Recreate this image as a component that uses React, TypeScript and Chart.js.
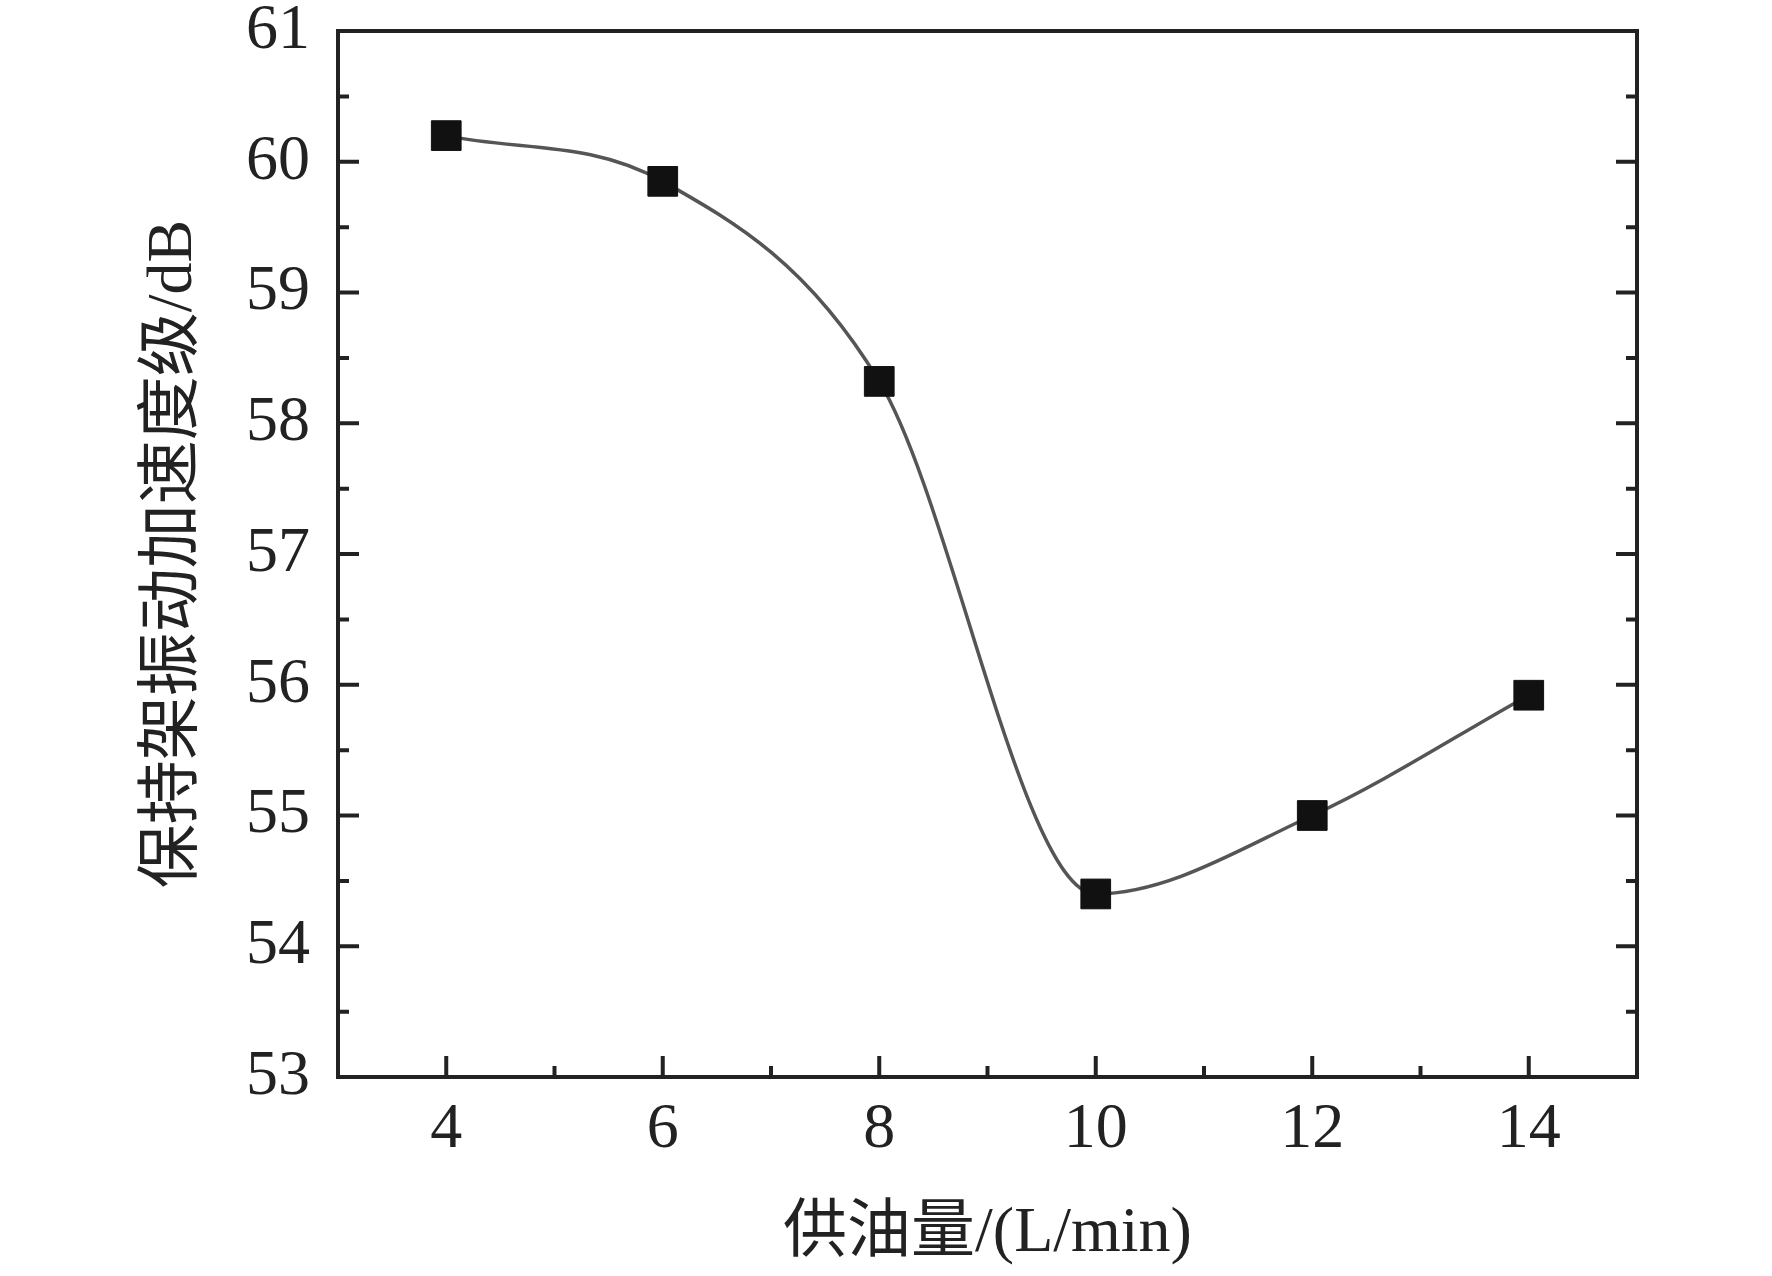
import React, { useEffect, useRef } from 'react';
import { Chart, registerables, type Plugin } from 'chart.js';

Chart.register(...registerables);

// 数据: 供油量 vs 保持架振动加速度级
const OIL_SUPPLY = [4, 6, 8, 10, 12, 14];
const ACCEL_LEVEL = [60.2, 59.85, 58.32, 54.4, 55.0, 55.92];
const X_TICKS = [4, 6, 8, 10, 12, 14];
const X_MINOR = [5, 7, 9, 11, 13];
const Y_TICKS = [53, 54, 55, 56, 57, 58, 59, 60, 61];
const Y_MINOR = [53.5, 54.5, 55.5, 56.5, 57.5, 58.5, 59.5, 60.5];

const SERIF = '"Liberation Serif", "Times New Roman", "Noto Sans CJK SC", serif';
const INK = '#222222';

// 边框 + 向内刻度
const framePlugin: Plugin<'line'> = {
  id: 'frameTicks',
  beforeDatasetsDraw(chart) {
    const { ctx, chartArea: a, scales } = chart;
    const x = scales.x;
    const y = scales.y;
    ctx.save();
    ctx.strokeStyle = INK;
    ctx.lineWidth = 4;
    ctx.lineCap = 'square';
    ctx.strokeRect(a.left, a.top, a.right - a.left, a.bottom - a.top);
    ctx.lineCap = 'butt';
    ctx.beginPath();
    const major = 21;
    const minor = 11;
    X_TICKS.forEach((v) => {
      const px = x.getPixelForValue(v);
      ctx.moveTo(px, a.bottom);
      ctx.lineTo(px, a.bottom - major);
    });
    X_MINOR.forEach((v) => {
      const px = x.getPixelForValue(v);
      ctx.moveTo(px, a.bottom);
      ctx.lineTo(px, a.bottom - minor);
    });
    Y_TICKS.forEach((v) => {
      const py = y.getPixelForValue(v);
      ctx.moveTo(a.left, py);
      ctx.lineTo(a.left + major, py);
      ctx.moveTo(a.right, py);
      ctx.lineTo(a.right - major, py);
    });
    Y_MINOR.forEach((v) => {
      const py = y.getPixelForValue(v);
      ctx.moveTo(a.left, py);
      ctx.lineTo(a.left + minor, py);
      ctx.moveTo(a.right, py);
      ctx.lineTo(a.right - minor, py);
    });
    ctx.stroke();
    ctx.restore();
  },
};

const App: React.FC = () => {
  const canvasRef = useRef<HTMLCanvasElement>(null);
  const chartRef = useRef<Chart<'line'> | null>(null);

  useEffect(() => {
    if (!canvasRef.current) return;
    chartRef.current?.destroy();

    chartRef.current = new Chart(canvasRef.current, {
      type: 'line',
      data: {
        datasets: [
          {
            data: OIL_SUPPLY.map((v, i) => ({ x: v, y: ACCEL_LEVEL[i] })),
            borderColor: '#555555',
            borderWidth: 3.5,
            cubicInterpolationMode: 'monotone',
            pointStyle: 'rect',
            pointRadius: 21,
            pointBackgroundColor: '#111111',
            pointBorderColor: '#111111',
            pointBorderWidth: 1,
            fill: false,
          },
        ],
      },
      options: {
        animation: false,
        responsive: true,
        maintainAspectRatio: false,
        devicePixelRatio: 1,
        layout: { padding: { left: 136, right: 135, top: 31, bottom: 3 } },
        plugins: { legend: { display: false }, tooltip: { enabled: false } },
        scales: {
          x: {
            type: 'linear',
            min: 3,
            max: 15,
            afterBuildTicks: (s) => {
              s.ticks = X_TICKS.map((value) => ({ value }));
            },
            afterFit: (s: any) => {
              s.height = 196;
              s.paddingLeft = 0;
              s.paddingRight = 0;
            },
            grid: { display: false, drawTicks: false },
            border: { display: false },
            ticks: {
              padding: 15,
              color: INK,
              font: { family: SERIF, size: 64 },
              maxRotation: 0,
            },
            title: {
              display: true,
              text: '供油量/(L/min)',
              color: INK,
              font: { family: SERIF, size: 64 },
              padding: 0,
            },
          },
          y: {
            type: 'linear',
            min: 53,
            max: 61,
            afterBuildTicks: (s) => {
              s.ticks = Y_TICKS.map((value) => ({ value }));
            },
            afterFit: (s: any) => {
              s.width = 202;
              s.paddingTop = 0;
              s.paddingBottom = 0;
            },
            grid: { display: false, drawTicks: false },
            border: { display: false },
            ticks: {
              padding: 28,
              color: INK,
              font: { family: SERIF, size: 64 },
            },
            title: {
              display: true,
              text: '保持架振动加速度级/dB',
              color: INK,
              font: { family: SERIF, size: 64 },
              padding: 0,
            },
          },
        },
      },
      plugins: [framePlugin],
    });

    return () => {
      chartRef.current?.destroy();
      chartRef.current = null;
    };
  }, []);

  return (
    <div style={{ position: 'fixed', left: 0, top: 0, width: 1772, height: 1276, background: '#ffffff' }}>
      <canvas ref={canvasRef} />
    </div>
  );
};

export default App;
